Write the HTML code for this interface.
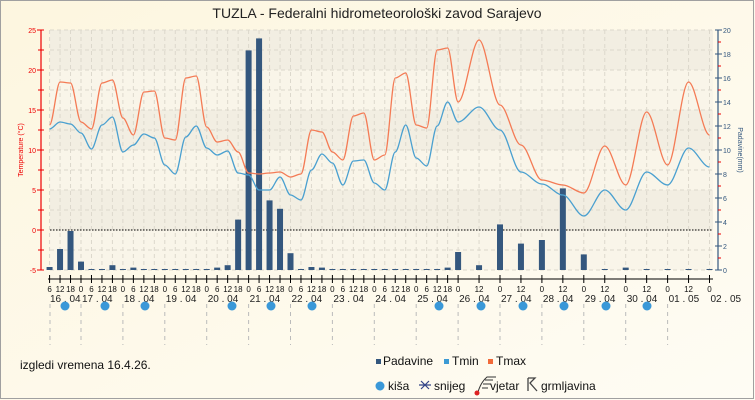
<!DOCTYPE html>
<html><head><meta charset="utf-8"><style>
html,body{margin:0;padding:0;width:755px;height:400px;overflow:hidden;background:#fdf7e4}
svg{display:block;font-family:"Liberation Sans","DejaVu Sans",sans-serif}
</style></head><body>
<svg id="s" width="755" height="400" viewBox="0 0 755 400" xmlns="http://www.w3.org/2000/svg">
<defs><linearGradient id="bg" x1="0" y1="0" x2="1" y2="1"><stop offset="0" stop-color="#fdf6df"/><stop offset="1" stop-color="#fefcf4"/></linearGradient></defs>
<rect x="0" y="0" width="755" height="400" fill="url(#bg)"/>
<rect x="0.5" y="0.5" width="753" height="398" fill="none" stroke="#a0a0a0"/>
<text x="377" y="18" font-size="14" text-anchor="middle" fill="#222">TUZLA - Federalni hidrometeorološki zavod Sarajevo</text>
<g id="g"></g>
<text x="20" y="369" font-size="12" fill="#111">izgledi vremena 16.4.26.</text>
<rect x="376" y="359" width="5" height="5" fill="#34577e"/><text x="383" y="365" font-size="12" fill="#111">Padavine</text>
<rect x="444" y="359" width="5" height="5" fill="#3c9ad4"/><text x="452" y="365" font-size="12" fill="#111">Tmin</text>
<rect x="488" y="359" width="5" height="5" fill="#f26a3a"/><text x="496" y="365" font-size="12" fill="#111">Tmax</text>
<circle cx="380" cy="386" r="4.5" fill="#3a98d8"/><text x="388" y="390" font-size="12" fill="#111">kiša</text>
<path d="M421 381l8 8M429 381l-8 8M419 385h12" stroke="#334488" stroke-width="1.2"/><text x="434" y="390" font-size="12" fill="#111">snijeg</text>
<path d="M478 392q3-10 9-15h9M485 380h8M483 384h8M482 388h6" stroke="#333" fill="none" stroke-width="1"/><circle cx="477" cy="393" r="2.5" fill="#d22"/>
<text x="490" y="390" font-size="12" fill="#111">vjetar</text>
<path d="M528 378v13M528 378h7l-5 5 7 8" stroke="#444" fill="none" stroke-width="1.3"/><text x="541" y="390" font-size="12" fill="#111">grmljavina</text>
</svg>
<script>
var g=document.getElementById('g'),h='';
var X0=50,X1=713,Y0=30,Y1=270;
function X(hr){return 81+(hr)*41.9/24;}
var cols=['#f2eee2','#f9f5e9'];
for(var i=0;i<6;i++)h+='<rect x="'+X0+'" y="'+(Y0+i*40)+'" width="'+(X1-X0)+'" height="40" fill="'+cols[i%2]+'"/>';
for(var v=0;v<=12;v++){var y=Y0+v*20;h+='<line x1="'+X0+'" x2="'+X1+'" y1="'+y+'" y2="'+y+'" stroke="#dcd8cc" stroke-dasharray="4,3"/>';}
var ticks=[];for(var t=-18;t<=216;t+=6)ticks.push(t);for(var t=228;t<=360;t+=12)ticks.push(t);
ticks.forEach(function(t){var x=X(t);h+='<line x1="'+x+'" x2="'+x+'" y1="'+Y0+'" y2="'+Y1+'" stroke="#dcd8cc" stroke-dasharray="4,3"/>';
 h+='<line x1="'+x+'" x2="'+x+'" y1="275" y2="283" stroke="#000"/>';
 var hh=((t%24)+24)%24;h+='<text x="'+x+'" y="292" font-size="8" text-anchor="middle" fill="#111">'+hh+'</text>';});
h+='<line x1="48" x2="713" y1="279" y2="279" stroke="#000"/>';
var dates=['16 . 04','17 . 04','18 . 04','19 . 04','20 . 04','21 . 04','22 . 04','23 . 04','24 . 04','25 . 04','26 . 04','27 . 04','28 . 04','29 . 04','30 . 04','01 . 05','02 . 05'];
dates.forEach(function(d,i){var x=i==0?49:X((i-1)*24);h+='<text x="'+(x+1)+'" y="302" font-size="10" fill="#222">'+d+'</text>';
 if(i>0&&i<16)h+='<line x1="'+x+'" x2="'+x+'" y1="304" y2="345" stroke="#bbb" stroke-dasharray="4,4"/>';});
h+='<line x1="50" x2="50" y1="304" y2="345" stroke="#bbb" stroke-dasharray="4,4"/>';
[65,105,145,232,271,312,439,481,523,564,606,647].forEach(function(x){h+='<circle cx="'+x+'" cy="306" r="4.5" fill="#3a98d8"/>';});
h+='<line x1="'+X0+'" x2="'+X1+'" y1="230" y2="230" stroke="#000" stroke-dasharray="1.5,1.5"/>';
var pr=[0.25,1.75,3.25,0.7,0,0,0.4,0,0.2,0,0,0,0,0,0,0,0.2,0.4,4.2,18.3,19.3,5.8,5.1,1.4,0,0.25,0.2,0,0,0,0,0,0,0,0,0,0,0,0.2,1.5];
pr.forEach(function(p,i){var x=X(-18+i*6);var hgt=Math.max(1,p*12);h+='<rect x="'+(x-3)+'" y="'+(270-hgt)+'" width="6" height="'+hgt+'" fill="#34577e"/>';});
var pr2=[0.4,3.8,2.2,2.5,6.8,1.3,0,0.2,0,0,0,0];
pr2.forEach(function(p,i){var x=X(228+i*12);var hgt=Math.max(1,p*12);h+='<rect x="'+(x-3)+'" y="'+(270-hgt)+'" width="6" height="'+hgt+'" fill="#34577e"/>';});
var mx=[125,82,83,122,129,83,80,118,135,92,91,138,140,78,76,127,142,140,152,173,174,173,172,177,174,130,132,152,160,116,113,160,155,78,73,125,128,50,48,102];
var mx2=[40,105,145,180,185,193,146,185,112,165,82,135];
var mn=[129,122,124,133,149,125,117,152,145,134,138,165,174,137,126,148,155,151,173,175,190,190,177,195,200,170,154,163,185,161,160,183,190,152,125,158,166,126,102,122];
var mn2=[107,130,172,184,195,216,190,210,172,185,148,167];
function pts(a,b){var p=[];a.forEach(function(y,i){p.push([X(-18+i*6),y]);});b.forEach(function(y,i){p.push([X(228+i*12),y]);});return p;}
function path(p){var d='M'+p[0][0]+' '+p[0][1];for(var i=1;i<p.length;i++){var a=p[i-1],b=p[i],c=(b[0]-a[0])/3;d+=' C'+(a[0]+c)+' '+a[1]+' '+(b[0]-c)+' '+b[1]+' '+b[0]+' '+b[1];}return d;}
h+='<path d="'+path(pts(mx,mx2))+'" fill="none" stroke="#f47b55" stroke-width="1.3"/>';
h+='<path d="'+path(pts(mn,mn2))+'" fill="none" stroke="#4aa0d0" stroke-width="1.3"/>';
h+='<line x1="41" x2="41" y1="30" y2="270" stroke="#e00" stroke-width="1.2"/>';
for(var v=-5;v<=25;v+=2.5){var y=230-v*8;var maj=v%5==0;h+='<line x1="'+(maj?37:38)+'" x2="44" y1="'+y+'" y2="'+y+'" stroke="#e00"/>';if(maj)h+='<text x="36" y="'+(y+3)+'" font-size="7" text-anchor="end" fill="#e00">'+v+'</text>';}
h+='<text transform="translate(23,150) rotate(-90)" font-size="7" text-anchor="middle" fill="#e00">Temperature (°C)</text>';
h+='<line x1="718" x2="718" y1="30" y2="270" stroke="#34577e" stroke-width="1.2"/>';
for(var v=0;v<=20;v++){var y=270-v*12;var maj=v%2==0;h+='<line x1="'+(maj?715:718)+'" x2="'+(maj?722:721)+'" y1="'+y+'" y2="'+y+'" stroke="'+(maj?'#34577e':'#e00')+'"/>';if(maj)h+='<text x="723" y="'+(y+3)+'" font-size="7" fill="#34577e">'+v+'</text>';}
h+='<text transform="translate(738,150) rotate(90)" font-size="7" text-anchor="middle" fill="#34577e">Padavine(mm)</text>';
g.innerHTML=h;
</script>
</body></html>
